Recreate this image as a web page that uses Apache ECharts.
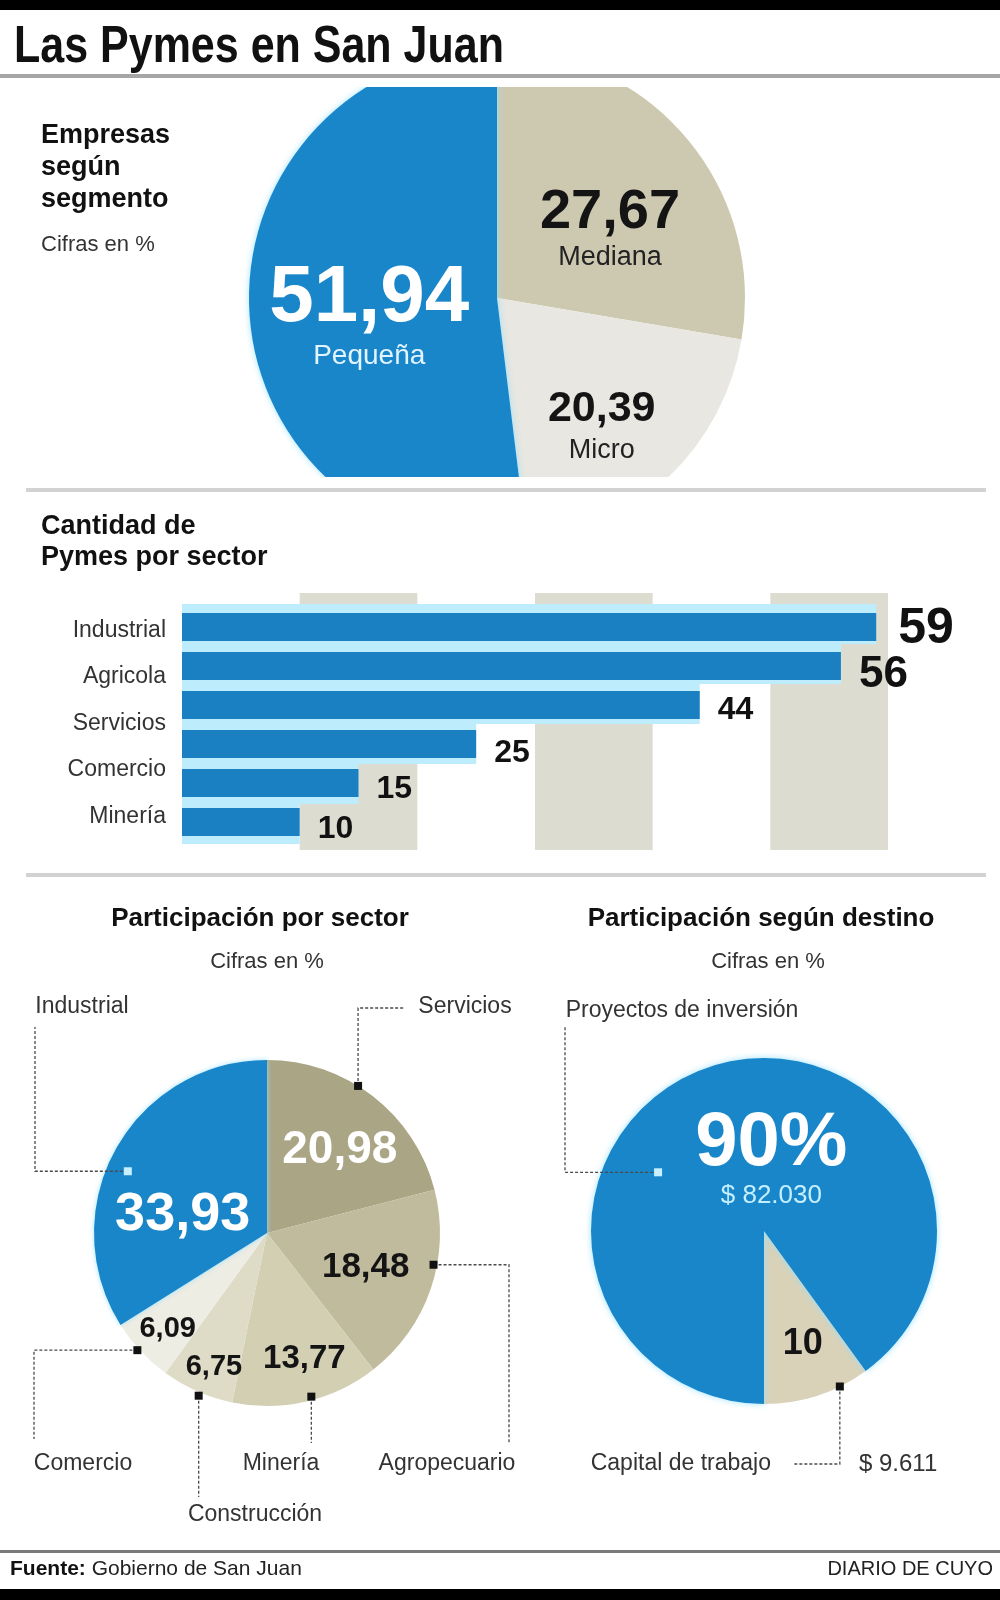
<!DOCTYPE html>
<html>
<head>
<meta charset="utf-8">
<title>Las Pymes en San Juan</title>
<script src="https://cdn.jsdelivr.net/npm/echarts@6/dist/echarts.min.js"></script>
<style>
  body { margin: 0; background: #fff; }
  #page { position: relative; width: 1000px; height: 1600px; }
  #main { position: absolute; left: 0; top: 0; width: 1000px; height: 1600px; }
  /* la torta de arriba esta cortada arriba y abajo */
  #topClip { position: absolute; left: 0; top: 87px; width: 1000px; height: 390px; overflow: hidden; }
  #topPie { position: absolute; left: 0; top: -87px; width: 1000px; height: 600px; }
</style>
</head>
<body>
<div id="page">
  <div id="main"></div>
  <div id="topClip"><div id="topPie"></div></div>
</div>
<script>
// ---- datos ----
var segmentoNombres = ['Mediana', 'Micro', 'Pequeña'];
var segmentoValores = [27.67, 20.39, 51.94];

var sectorEtiquetas = ['Industrial', 'Agricola', 'Servicios', 'Comercio', 'Minería'];
var sectorCantidades = [59, 56, 44, 25, 15, 10];

var participacionNombres = ['Servicios', 'Agropecuario', 'Minería', 'Construcción', 'Comercio', 'Industrial'];
var participacionValores = [20.98, 18.48, 13.77, 6.75, 6.09, 33.93];

var destinoNombres = ['Capital de trabajo', 'Proyectos de inversión'];
var destinoValores = [10, 90];
var destinoMontos = ['$ 9.611', '$ 82.030'];

// ---- estilo ----
var FONT = '"Liberation Sans", Arial, sans-serif';
var AZUL = '#1a86ca';
var segColores = ['#cdc9b1', '#e8e7e1', AZUL];
var sectorColores = ['#aaa585', '#c0bb9c', '#d3cfb3', '#dedbc6', '#eeede4', AZUL];
var destinoColores = ['#d9d2b9', AZUL];
var barLabelSizes = [50, 44, 32, 32, 32, 32];
var barLabelOffsets = [[4, 2], [0, 9], [0, 5], [0, 9], [0, 6], [0, 7]];

var PIE_SECTOR = { cx: 267, cy: 1233, r: 173, start: 90 };
var PIE_DESTINO = { cx: 764, cy: 1231, r: 173, start: -54 };

function coma(v) { return v.toFixed(2).replace('.', ','); }

// punto sobre la torta en el angulo medio de la porcion
function anclaTorta(valores, idx, pie, frac, dAng) {
  var total = 0, antes = 0;
  for (var i = 0; i < valores.length; i++) {
    total += valores[i];
    if (i < idx) antes += valores[i];
  }
  var ang = (90 - pie.start) + (antes + valores[idx] / 2) / total * 360 + dAng;
  var rad = ang * Math.PI / 180;
  return [pie.cx + pie.r * frac * Math.sin(rad), pie.cy - pie.r * frac * Math.cos(rad)];
}

function ruta(p, g) {
  if (g.route === 'vh') return [p, [p[0], g.to[1]], [g.to[0], g.to[1]]];
  if (g.route === 'hv') return [p, [g.to[0], p[1]], [g.to[0], g.to[1]]];
  return [p, [p[0], (p[1] + g.to[1]) / 2], [p[0], g.to[1]]];
}

// guias (lineas punteadas) de las tortas de abajo
var sectorGuias = [
  { frac: 1.0, dAng: -6, route: 'vh', to: [405, 1008], label: [465, 1007] },
  { frac: 0.98, dAng: -8, route: 'hv', to: [509, 1443], label: [447, 1464] },
  { frac: 0.98, dAng: -2, route: 'v', to: [0, 1443], label: [281, 1464] },
  { frac: 1.02, dAng: -1, route: 'v', to: [0, 1497], label: [255, 1515] },
  { frac: 1.01, dAng: 1, route: 'hv', to: [34, 1439], label: [83, 1464] },
  { frac: 0.88, dAng: -5, route: 'hv', to: [35, 1027], label: [82, 1007] }
];
var destinoGuias = [
  { frac: 1.0, dAng: -8, route: 'vh', to: [793, 1464], label: [764, 1464] },
  { frac: 0.70, dAng: -43, route: 'hv', to: [565, 1027], label: [682, 1011] }
];
var sectorPuntos = sectorGuias.map(function (g, i) { return anclaTorta(participacionValores, i, PIE_SECTOR, g.frac, g.dAng); });
var destinoPuntos = destinoGuias.map(function (g, i) { return anclaTorta(destinoValores, i, PIE_DESTINO, g.frac, g.dAng); });

// ajustes de las etiquetas internas
var segOffsets = [{ dx: 16, dy: 14 }, { dx: 17, dy: 39 }, { dx: -1, dy: 13 }];
var sectorOffsets = [{ dx: 18, dy: -12 }, { dx: 14, dy: 6 }, { dx: 17, dy: 39 }, { dx: -17, dy: 52 }, { dx: -34, dy: 35 }, { dx: -6, dy: 25 }];
var sectorNumSizes = [46, 35, 33, 29, 29, 54];
var destinoOffsets = [{ dx: 11, dy: 28 }, { dx: 35, dy: 13 }];

var lineaGuia = { color: '#4a4a4a', width: 1.3, type: [3, 2] };

// ---- torta superior ----
var topChart = echarts.init(document.getElementById('topPie'));
topChart.setOption({
  animation: false,
  textStyle: { fontFamily: FONT },
  series: [{
    type: 'pie',
    center: [497, 298],
    radius: 248,
    startAngle: 90,
    clockwise: true,
    silent: true,
    avoidLabelOverlap: false,
    data: segmentoNombres.map(function (n, i) {
      return {
        name: n, value: segmentoValores[i],
        itemStyle: i === 2 ? { color: segColores[i], shadowBlur: 6, shadowColor: 'rgba(150,225,255,0.9)' } : { color: segColores[i] }
      };
    }),
    label: {
      show: true,
      position: 'inside',
      formatter: function (p) {
        var k = ['m', 'c', 'p'][p.dataIndex];
        return '{' + k + 'N|' + coma(p.value) + '}\n{' + k + 'S|' + p.name + '}';
      },
      rich: {
        pN: { fontSize: 80, fontWeight: 'bold', color: '#fff', lineHeight: 76, fontFamily: FONT },
        pS: { fontSize: 28, color: '#e2f4ff', lineHeight: 40, fontFamily: FONT },
        mN: { fontSize: 56, fontWeight: 'bold', color: '#141414', lineHeight: 56, fontFamily: FONT },
        mS: { fontSize: 27, color: '#222', lineHeight: 34, fontFamily: FONT },
        cN: { fontSize: 43, fontWeight: 'bold', color: '#141414', lineHeight: 44, fontFamily: FONT },
        cS: { fontSize: 27, color: '#222', lineHeight: 40, fontFamily: FONT }
      }
    },
    labelLine: { show: false },
    labelLayout: function (p) { return segOffsets[p.dataIndex]; }
  }]
});

// ---- grafico principal ----
var chart = echarts.init(document.getElementById('main'));

var graficos = [
  { type: 'rect', shape: { x: 0, y: 0, width: 1000, height: 10 }, style: { fill: '#000' } },
  { type: 'rect', shape: { x: 0, y: 74, width: 1000, height: 4 }, style: { fill: '#a6a6a6' } },
  { type: 'rect', shape: { x: 26, y: 488, width: 960, height: 4 }, style: { fill: '#d2d2d2' } },
  { type: 'rect', shape: { x: 26, y: 873, width: 960, height: 4 }, style: { fill: '#d2d2d2' } },
  { type: 'rect', shape: { x: 0, y: 1550, width: 1000, height: 3 }, style: { fill: '#7a7a7a' } },
  { type: 'rect', shape: { x: 0, y: 1589, width: 1000, height: 11 }, style: { fill: '#000' } },
  { type: 'text', x: 14, y: 48, scaleY: 1.22, style: { text: 'Las Pymes en San Juan', font: 'bold 43px ' + FONT, fill: '#111', textAlign: 'left', textVerticalAlign: 'middle' } }
];

function texto(t, x, y, font, align, color) {
  graficos.push({ type: 'text', x: x, y: y, style: { text: t, font: font, fill: color || '#111', textAlign: align || 'left', textVerticalAlign: 'middle' } });
}
texto('Empresas', 41, 136, 'bold 27px ' + FONT);
texto('según', 41, 168, 'bold 27px ' + FONT);
texto('segmento', 41, 200, 'bold 27px ' + FONT);
texto('Cifras en %', 41, 245, '22px ' + FONT, 'left', '#333');
texto('Cantidad de', 41, 527, 'bold 27px ' + FONT);
texto('Pymes por sector', 41, 558, 'bold 27px ' + FONT);
texto('Participación por sector', 260, 919, 'bold 26px ' + FONT, 'center');
texto('Participación según destino', 761, 919, 'bold 26px ' + FONT, 'center');
texto('Cifras en %', 267, 962, '22px ' + FONT, 'center', '#333');
texto('Cifras en %', 768, 962, '22px ' + FONT, 'center', '#333');
texto('DIARIO DE CUYO', 993, 1569, '20px ' + FONT, 'right', '#222');
graficos.push({
  type: 'text', x: 10, y: 1569,
  style: {
    text: '{b|Fuente:} Gobierno de San Juan', fontSize: 21, fontFamily: FONT, fill: '#222',
    textAlign: 'left', textVerticalAlign: 'middle',
    rich: { b: { fontSize: 21, fontFamily: FONT, fontWeight: 'bold', fill: '#111' } }
  }
});

// puntos de las guias
function punto(p, color) {
  graficos.push({ type: 'rect', z: 20, shape: { x: p[0] - 4, y: p[1] - 4, width: 8, height: 8 }, style: { fill: color } });
}
sectorPuntos.forEach(function (p, i) { punto(p, i === 5 ? '#c6f0ff' : '#111'); });
destinoPuntos.forEach(function (p, i) { punto(p, i === 1 ? '#c6f0ff' : '#111'); });

var pieBase = {
  type: 'pie',
  startAngle: 90,
  clockwise: true,
  silent: true,
  avoidLabelOverlap: false
};

var barCats = sectorCantidades.map(function (v, i) { return String(i); });

chart.setOption({
  animation: false,
  textStyle: { fontFamily: FONT },
  graphic: { elements: graficos },
  grid: [
    { left: 182, right: 112, top: 593, height: 257, outerBoundsMode: 'none' },
    { left: 182, right: 112, top: 607.5, height: 234, outerBoundsMode: 'none' },
    { left: 182, right: 112, top: 607, height: 233, outerBoundsMode: 'none' },
    { left: 182, right: 112, top: 604, height: 240, outerBoundsMode: 'none' }
  ],
  xAxis: [
    {
      gridIndex: 0, type: 'value', min: 0, max: 60, interval: 10,
      axisLine: { show: false }, axisTick: { show: false }, axisLabel: { show: false },
      splitLine: { show: false },
      splitArea: { show: true, areaStyle: { color: ['rgba(0,0,0,0)', '#dddcd1'] } }
    },
    { gridIndex: 1, type: 'value', min: 0, max: 60, show: false },
    { gridIndex: 2, type: 'value', min: 0, max: 60, show: false },
    { gridIndex: 3, type: 'value', min: 0, max: 60, show: false }
  ],
  yAxis: [
    { gridIndex: 0, type: 'value', min: 0, max: 1, show: false },
    { gridIndex: 1, type: 'category', inverse: true, data: barCats, show: false },
    {
      gridIndex: 2, type: 'category', inverse: true, data: sectorEtiquetas,
      axisLine: { show: false }, axisTick: { show: false }, splitLine: { show: false },
      axisLabel: { fontSize: 23, color: '#333', margin: 16, fontFamily: FONT }
    },
    { gridIndex: 3, type: 'category', inverse: true, data: barCats, show: false }
  ],
  series: [
    // halo celeste detras de las barras
    {
      type: 'bar',
      xAxisIndex: 3, yAxisIndex: 3,
      barWidth: '100%',
      silent: true,
      z: 1,
      itemStyle: { color: '#bdedfd' },
      data: sectorCantidades
    },
    {
      type: 'bar',
      xAxisIndex: 1, yAxisIndex: 1,
      barWidth: 28,
      silent: true,
      z: 3,
      itemStyle: { color: '#1a80c2' },
      label: { show: true, position: 'right', distance: 18, fontWeight: 'bold', color: '#111', fontFamily: FONT },
      data: sectorCantidades.map(function (v, i) {
        return { value: v, label: { fontSize: barLabelSizes[i], offset: barLabelOffsets[i] } };
      })
    },
    // torta por sector: relleno y numeros
    Object.assign({}, pieBase, {
      center: [PIE_SECTOR.cx, PIE_SECTOR.cy],
      radius: PIE_SECTOR.r,
      data: participacionNombres.map(function (n, i) {
        return {
          name: n, value: participacionValores[i],
          itemStyle: i === 5 ? { color: sectorColores[i], shadowBlur: 5, shadowColor: 'rgba(150,225,255,0.9)' } : { color: sectorColores[i] },
          label: { fontSize: sectorNumSizes[i], color: (i === 0 || i === 5) ? '#fff' : '#141414' }
        };
      }),
      label: { show: true, position: 'inside', fontWeight: 'bold', fontFamily: FONT, formatter: function (p) { return coma(p.value); } },
      labelLine: { show: false },
      labelLayout: function (p) { return sectorOffsets[p.dataIndex]; }
    }),
    // torta por sector: nombres y guias
    Object.assign({}, pieBase, {
      center: [PIE_SECTOR.cx, PIE_SECTOR.cy],
      radius: PIE_SECTOR.r,
      z: 5,
      itemStyle: { color: 'rgba(0,0,0,0)' },
      data: participacionNombres.map(function (n, i) { return { name: n, value: participacionValores[i] }; }),
      label: { show: true, position: 'outside', formatter: '{b}', fontSize: 23, color: '#333', fontFamily: FONT },
      labelLine: { show: true, smooth: false, lineStyle: lineaGuia },
      labelLayout: function (p) {
        var g = sectorGuias[p.dataIndex];
        return { x: g.label[0], y: g.label[1], align: 'center', verticalAlign: 'middle', labelLinePoints: ruta(sectorPuntos[p.dataIndex], g) };
      }
    }),
    // torta segun destino: relleno y numeros
    Object.assign({}, pieBase, {
      center: [PIE_DESTINO.cx, PIE_DESTINO.cy],
      radius: PIE_DESTINO.r,
      startAngle: PIE_DESTINO.start,
      data: destinoNombres.map(function (n, i) {
        return {
          name: n, value: destinoValores[i],
          itemStyle: i === 1 ? { color: destinoColores[i], shadowBlur: 6, shadowColor: 'rgba(150,225,255,0.95)' } : { color: destinoColores[i] }
        };
      }),
      label: {
        show: true, position: 'inside', fontFamily: FONT,
        formatter: function (p) {
          if (p.dataIndex === 0) return '{c|' + p.value + '}';
          return '{p|' + p.value + '%}\n{m|' + destinoMontos[1] + '}';
        },
        rich: {
          c: { fontSize: 36, fontWeight: 'bold', color: '#141414', fontFamily: FONT },
          p: { fontSize: 76, fontWeight: 'bold', color: '#fff', lineHeight: 74, fontFamily: FONT },
          m: { fontSize: 26, color: '#c4efff', lineHeight: 30, fontFamily: FONT }
        }
      },
      labelLine: { show: false },
      labelLayout: function (p) { return destinoOffsets[p.dataIndex]; }
    }),
    // torta segun destino: nombres y guias
    Object.assign({}, pieBase, {
      center: [PIE_DESTINO.cx, PIE_DESTINO.cy],
      radius: PIE_DESTINO.r,
      startAngle: PIE_DESTINO.start,
      z: 5,
      itemStyle: { color: 'rgba(0,0,0,0)' },
      data: destinoNombres.map(function (n, i) { return { name: n, value: destinoValores[i] }; }),
      label: {
        show: true, position: 'outside', fontSize: 23, color: '#333', fontFamily: FONT,
        formatter: function (p) {
          if (p.dataIndex === 0) return '{n|' + p.name + '}{g|}{m|' + destinoMontos[0] + '}';
          return '{n|' + p.name + '}';
        },
        rich: {
          n: { fontSize: 23, color: '#333', fontFamily: FONT },
          g: { width: 88 },
          m: { fontSize: 24, color: '#333', fontFamily: FONT }
        }
      },
      labelLine: { show: true, smooth: false, lineStyle: lineaGuia },
      labelLayout: function (p) {
        var g = destinoGuias[p.dataIndex];
        return { x: g.label[0], y: g.label[1], align: 'center', verticalAlign: 'middle', labelLinePoints: ruta(destinoPuntos[p.dataIndex], g) };
      }
    })
  ]
});
</script>
</body>
</html>
